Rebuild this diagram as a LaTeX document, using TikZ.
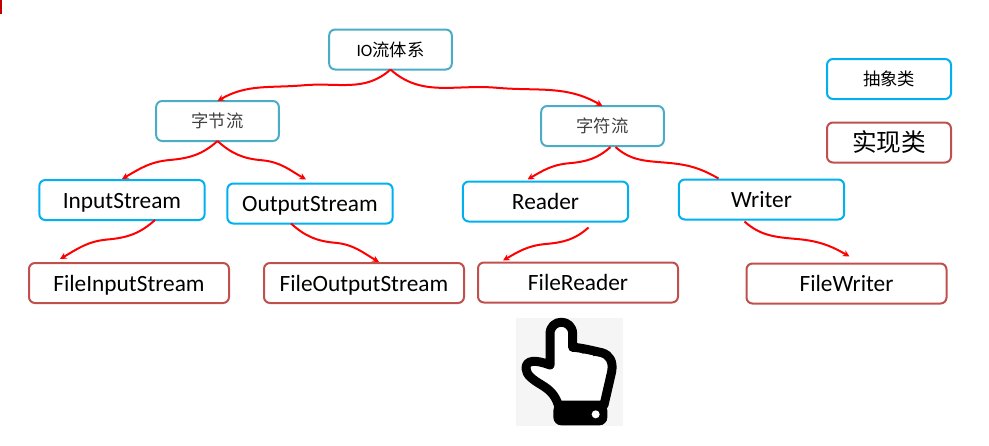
\documentclass[tikz,border=0pt]{standalone}
\usepackage{fontspec}
\setmainfont{Carlito}
\newfontfamily\cjk{Noto Sans CJK SC}
\usetikzlibrary{arrows.meta,calc}
\definecolor{GroupClr}{HTML}{4BACC6}
\definecolor{AbstractClr}{HTML}{00B0F0}
\definecolor{ImplClr}{HTML}{C0504D}
\definecolor{FlowClr}{HTML}{FF0000}
\definecolor{CornerClr}{HTML}{C00000}
\definecolor{HandBackClr}{HTML}{F5F5F5}
\tikzset{
  basebox/.style={draw,rounded corners=4.5pt,line width=1.5pt,outer sep=0pt,inner sep=0pt,minimum height=30pt},
  groupbox/.style={basebox,draw=GroupClr,minimum width=92pt,font=\fontsize{13}{15}\selectfont},
  abstractbox/.style={basebox,draw=AbstractClr,minimum width=124pt,text height=12pt,text depth=0pt,font=\fontsize{17.5}{19}\selectfont},
  implbox/.style={basebox,draw=ImplClr,minimum width=150pt,text height=12pt,text depth=0pt,font=\fontsize{17.5}{19}\selectfont},
  flowline/.style={draw=FlowClr,line width=1.5pt},
  flowtip/.style={flowline,-{Stealth[length=5pt,width=5pt]}},
}
% curved links: they leave going down and flatten out half way
\newcommand\flowleft[3][flowtip]{\draw[#1] (#2) to[out=222,in=5] ($(#2)!.5!(#3)$) to[out=185,in=30] (#3);}
\newcommand\flowright[3][flowtip]{\draw[#1] (#2) to[out=-42,in=175] ($(#2)!.5!(#3)$) to[out=-5,in=150] (#3);}

\begin{document}
\begin{tikzpicture}[x=.75pt,y=-.75pt]
\useasboundingbox (0,0) rectangle (989,446);
\fill[CornerClr] (0,0) rectangle (2,14);

\node[groupbox] (io) at (390.5,49.5) {IO{\cjk 流体系}};
\node[groupbox,text=black!75] (bytes) at (217.5,121) {\cjk 字节流};
\node[groupbox,text=black!75] (chars) at (602.5,126) {\cjk 字符流};

\node[abstractbox] (input) at (122,200) {InputStream};
\node[abstractbox] (output) at (310,203.5) {OutputStream};
\node[abstractbox] (reader) at (545.5,201.5) {Reader};
\node[abstractbox] (writer) at (761.5,199.5) {Writer};

\node[implbox] (fileinput) at (129,283) {FileInputStream};
\node[implbox] (fileoutput) at (364,283) {FileOutputStream};
\node[implbox] (filereader) at (578,282.5) {FileReader};
\node[implbox] (filewriter) at (846.5,283.5) {FileWriter};

% legend
\node[groupbox,draw=AbstractClr,minimum width=93pt] (legendabs) at (889,79) {\cjk 抽象类};
\node[groupbox,draw=ImplClr,minimum width=93pt,font=\fontsize{18.5}{20}\selectfont] (legendimpl) at (889,142.5) {\cjk 实现类};

% link ends that are off the anchors
\coordinate (inputS) at ($(input.south)+(33,0)$);
\coordinate (fileinputN) at ($(fileinput.north)+(-69,-4)$);
\coordinate (outputS) at ($(output.south)+(-19,0)$);
\coordinate (fileoutputN) at ($(fileoutput.north)+(15,-1)$);
\coordinate (inputN) at ($(input.north)+(0,-1)$);
\coordinate (outputN) at ($(output.north)+(-4,-4)$);
\coordinate (charsSa) at ($(chars.south)+(8,1)$);
\coordinate (charsSb) at ($(chars.south)+(13,1)$);
\coordinate (readerN) at ($(reader.north)+(-18,-2)$);
\coordinate (writerN) at ($(writer.north)+(-43,-1)$);
\coordinate (readerS) at ($(reader.south)+(43,6)$);
\coordinate (filereaderN) at ($(filereader.north)+(-75,-2)$);
\coordinate (writerS) at ($(writer.south)+(-17,2)$);
\coordinate (filewriterN) at ($(filewriter.north)+(3,-7)$);

\flowleft{io.south}{bytes.north}
\flowright{io.south}{chars.north}
\flowleft{bytes.south}{inputN}
\flowright{bytes.south}{outputN}
\flowleft{charsSa}{readerN}
\flowright[flowline]{charsSb}{writerN}
\flowleft{inputS}{fileinputN}
\flowright{outputS}{fileoutputN}
\flowleft{readerS}{filereaderN}
\flowright{writerS}{filewriterN}

% hand icon
\fill[HandBackClr] (516,318) rectangle (623,426);
\begin{scope}[shift={(500,310)},x=.25pt,y=-.25pt]
\draw[line width=6.75pt,line join=round,fill=white] (150,165) -- (150,72) .. controls (150,25) and (218,25) .. (218,72) -- (218,112)
  .. controls (240,112) and (290,125) .. (305,128) .. controls (330,135) and (340,155) .. (335,185) -- (312,285) -- (175,285)
  .. controls (165,255) and (150,240) .. (125,225) .. controls (100,210) and (78,195) .. (78,175) .. controls (78,150) and (105,148) .. (150,165) -- cycle;
\draw[line width=2pt] (248,118) -- (250,130);
\draw[line width=2pt] (282,124) -- (284,138);
\fill[black,rounded corners=6pt] (160,278) rectangle (322,346);
\fill[white] (287,313) circle (12);
\end{scope}
\end{tikzpicture}
\end{document}
